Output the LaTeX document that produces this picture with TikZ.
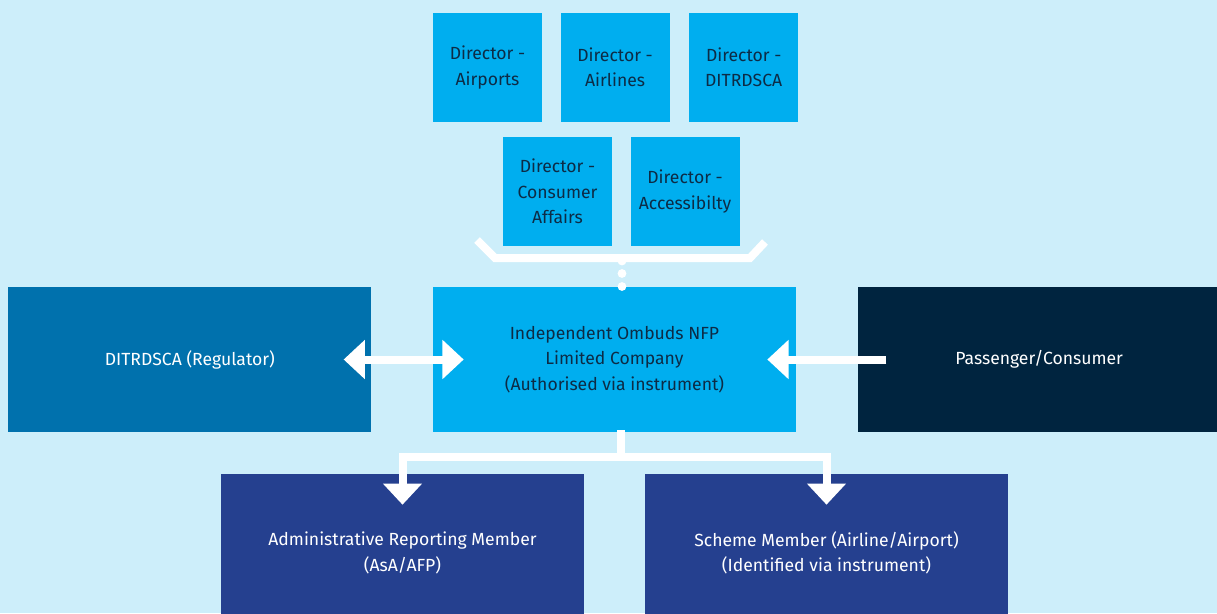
\documentclass[tikz,border=0pt]{standalone}
\usepackage{fontspec}
\setmainfont{Fira Sans}
\usetikzlibrary{arrows.meta,positioning}

\definecolor{bgblue}{HTML}{CDEEFA}
\definecolor{cyanbox}{HTML}{00AEEF}
\definecolor{regblue}{HTML}{0071AD}
\definecolor{navybox}{HTML}{00243F}
\definecolor{memberblue}{HTML}{25408F}
\definecolor{darktext}{HTML}{0D2B45}

\begin{document}
\begin{tikzpicture}[x=0.025cm,y=-0.025cm,
		every node/.style={font=\fontsize{12.5}{18}\selectfont,align=center,inner sep=0pt},
		dir node/.style={rectangle,fill=cyanbox,text=darktext,minimum size=2.725cm},
		big node/.style={rectangle,minimum width=9.075cm,minimum height=3.625cm},
		member node/.style={rectangle,fill=memberblue,text=white,
			minimum width=9.075cm,minimum height=3.95cm},
		flow/.style={draw=white,line width=0.2cm},
		tip/.style={-{Triangle[width=0.95cm,length=0.53cm]}},
		twotip/.style={{Triangle[width=0.95cm,length=0.53cm]}-{Triangle[width=0.95cm,length=0.53cm]}}
		]
		
		\path[use as bounding box,clip] (0,0) rectangle (1217,613);
		\fill[bgblue] (0,0) rectangle (1217,613);
		
		% directors
		\node[dir node] (DAP) at (487.5,67.5) {Director -\\Airports};
		\node[dir node] (DAL) [right=0.45cm of DAP] {Director -\\Airlines};
		\node[dir node] (DDI) [right=0.475cm of DAL] {Director -\\DITRDSCA};
		\node[dir node] (DCA) at (557.5,191.5) {Director -\\Consumer\\Affairs};
		\node[dir node] (DAC) [right=0.45cm of DCA] {Director -\\Accessibilty};
		
		% main row
		\node[big node,fill=cyanbox,text=darktext] (IO) at (614.5,359.5) {Independent Ombuds NFP\\Limited Company\\(Authorised via instrument)};
		\node[big node,fill=regblue,text=white] (REG) [left=1.525cm of IO] {DITRDSCA (Regulator)};
		\node[big node,fill=navybox,text=white] (PAS) [right=1.525cm of IO] {Passenger/Consumer};
		
		% members
		\node[member node] (ARM) at (402.5,553) {Administrative Reporting Member\\(AsA/AFP)};
		\node[member node] (SCM) at (826.5,553) {Scheme Member (Airline/Airport)\\(Identified via instrument)};
		
		% board bracket
		\coordinate (BL) at (477,240);
		\coordinate (BR) at (765,242);
		\draw[flow,line join=miter] (BL) -- (495,258) -- (750,258) -- (BR);
		\fill[white] (622,261) circle (0.11cm) (622,273.5) circle (0.11cm) (622,286.5) circle (0.11cm);
		
		\coordinate (split) at (621,457);
		
		\draw[flow,twotip,shorten <=-0.7cm,shorten >=-0.775cm] (REG) -- (IO);
		\draw[flow,tip,shorten <=-0.725cm,shorten >=-0.725cm] (PAS) -- (IO);
		\draw[flow] (IO.south -| split) ++(0,-2) -- (split);
		\draw[flow,tip,line join=miter,shorten >=-0.775cm] (split) -| (ARM.north);
		\draw[flow,tip,line join=miter,shorten >=-0.775cm] (split) -| (SCM.north);
		
	\end{tikzpicture}
\end{document}
